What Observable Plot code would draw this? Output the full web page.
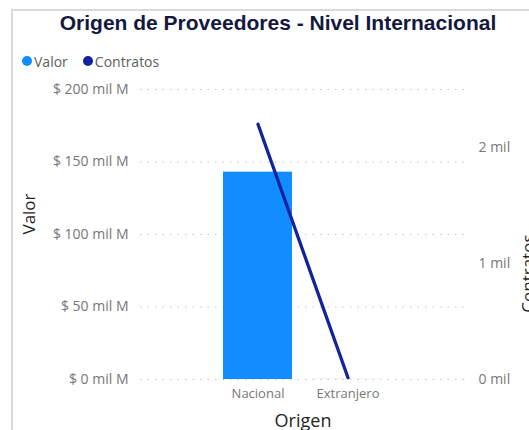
<!DOCTYPE html>
<html><head><meta charset="utf-8">
<script src="https://cdn.jsdelivr.net/npm/d3@7"></script>
<script src="https://cdn.jsdelivr.net/npm/@observablehq/plot@0.6"></script>
<style>
html,body{margin:0;padding:0;background:#fff;}
body{width:529px;height:430px;overflow:hidden;position:relative;font-family:"Open Sans",sans-serif;}
#frame{position:absolute;left:11px;top:9px;width:518px;height:421px;border-left:2px solid #dcd8d4;border-top:2px solid #dcd8d4;overflow:hidden;}
#title{height:26px;line-height:26px;text-align:center;padding-left:12px;font:bold 21px "Liberation Sans",Arial,sans-serif;color:#14183f;white-space:nowrap;}
#legend{margin-top:14px;height:20px;padding-left:9px;font-size:14px;color:#605e5c;display:flex;align-items:center;}
#legend .item{display:flex;align-items:center;margin-right:15px;}
#legend .dot{width:10px;height:10px;border-radius:50%;margin-right:2px;}
svg{display:block;}
</style>
</head><body>
<div id="frame">
  <div id="title">Origen de Proveedores - Nivel Internacional</div>
  <div id="legend"></div>
  <div id="chart"></div>
</div>
<script>
const origen = ["Nacional", "Extranjero"];
const valor = [143, 0.05];           // en mil M
const contratos = [2200, 15];
const valorTicks = [0, 50, 100, 150, 200];
const contratosTicks = [0, 1000, 2000];
const valorMax = 200;
const contratosMax = 2500;
const series = ["Valor", "Contratos"];
const colors = ["#118DFF", "#12239E"];

const k = valorMax / contratosMax;
const data = origen.map((o, i) => ({origen: o, valor: valor[i], contratos: contratos[i]}));

const legend = document.getElementById("legend");
series.forEach((s, i) => {
  const item = document.createElement("div");
  item.className = "item";
  const dot = document.createElement("span");
  dot.className = "dot";
  dot.style.background = colors[i];
  const label = document.createElement("span");
  label.textContent = s;
  item.appendChild(dot); item.appendChild(label);
  legend.appendChild(item);
});

const chart = Plot.plot({
  width: 516,
  height: 359,
  marginLeft: 127,
  marginRight: 64,
  marginTop: 18,
  marginBottom: 51,
  style: {fontFamily: '"Open Sans", sans-serif', background: "transparent", overflow: "visible"},
  x: {domain: origen, paddingInner: 0.233, paddingOuter: 0.92},
  y: {domain: [0, valorMax]},
  marks: [
    Plot.gridY(valorTicks, {stroke: "#c8c6c4", strokeOpacity: 1, strokeDasharray: "1.5,6"}),
    Plot.barY(data, {x: "origen", y: "valor", fill: colors[0]}),
    Plot.lineY(data, {x: "origen", y: d => d.contratos * k, stroke: colors[1], strokeWidth: 3.3, strokeLinecap: "round"}),
    Plot.axisY(valorTicks, {anchor: "left", tickSize: 0, tickPadding: 12, fontSize: 14, color: "#777777",
      tickFormat: d => `$ ${d} mil M`, label: null}),
    Plot.axisY(contratosTicks.map(d => d * k), {anchor: "right", tickSize: 0, tickPadding: 13, fontSize: 14, color: "#777777",
      tickFormat: d => `${Math.round(d / k / 1000)} mil`, label: null}),
    Plot.axisX({tickSize: 0, tickPadding: 9, fontSize: 13, color: "#777777", label: null}),
    Plot.text(["Valor"], {text: d => d, frameAnchor: "left", dx: -118, rotate: -90, lineAnchor: "top", fontSize: 17, fill: "#252423"}),
    Plot.text(["Contratos"], {text: d => d, frameAnchor: "right", dx: 68, rotate: -90, lineAnchor: "bottom", fontSize: 17, fill: "#252423"}),
    Plot.text(["Origen"], {text: d => d, frameAnchor: "bottom", dy: 47, lineAnchor: "bottom", fontSize: 18, fill: "#252423"})
  ]
});
document.getElementById("chart").appendChild(chart);
</script>
</body></html>
